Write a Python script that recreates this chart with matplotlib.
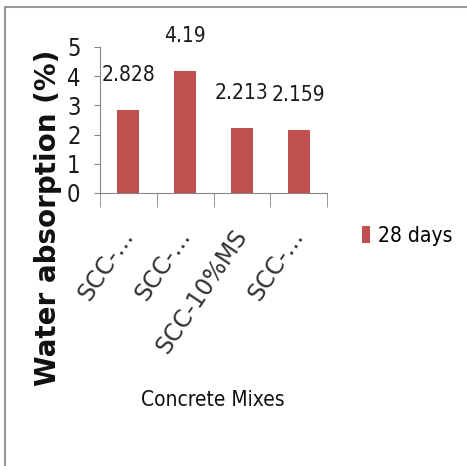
import matplotlib
matplotlib.use("Agg")
import matplotlib.pyplot as plt
from matplotlib.lines import Line2D
import numpy as np

mixes = ["SCC-…", "SCC-…", "SCC-10%MS", "SCC-…"]
absorption = [2.828, 4.19, 2.213, 2.159]
series_name = "28 days"

plt.rcParams["font.family"] = ["DejaVu Sans"]
plt.rcParams["font.stretch"] = "condensed"

fig = plt.figure(figsize=(4.67, 4.66), dpi=100)
ax = fig.add_axes([100 / 467, 1 - 193 / 466, 227 / 467, 146 / 466])

x = np.arange(len(mixes))
bars = ax.bar(x, absorption, width=0.39, color="#C0504D", label=series_name)
for xi, v in zip(x, absorption):
    ax.annotate(f"{v:g}", (xi, v), xytext=(0, 18), textcoords="offset points",
                ha="center", va="bottom", fontsize=15, color="#1a1a1a")

ax.set_xlim(-0.5, len(mixes) - 0.5)
ax.set_ylim(0, 5)
ax.set_yticks(range(6))
ax.tick_params(axis="y", labelsize=17, length=4, color="#868686", pad=10, labelcolor="#1a1a1a")
ax.set_xticks(x)
ax.set_xticklabels(mixes, rotation=56, ha="right", va="center", rotation_mode="anchor",
                   fontsize=17, fontstretch="normal", color="#333333")
ax.tick_params(axis="x", length=0, pad=28)
ax.set_xticks(np.arange(-0.5, len(mixes)), minor=True)
ax.tick_params(axis="x", which="minor", length=10, color="#868686")
for s in ["top", "right"]:
    ax.spines[s].set_visible(False)
for s in ["left", "bottom"]:
    ax.spines[s].set_color("#868686")

fig.text(48 / 467, 1 - 218 / 466, "Water absorption (%)", rotation=90, ha="center", va="center",
         fontsize=20, fontweight="bold", fontstretch="normal", color="#111111")
fig.text(213 / 467, 1 - 400 / 466, "Concrete Mixes", ha="center", va="center",
         fontsize=15, color="#111111")

fig.legend(handles=[bars], labels=[series_name], loc="center left",
           bbox_to_anchor=(343 / 467, 1 - 236 / 466), frameon=False, fontsize=15,
           handlelength=0.4, handleheight=0.9, handletextpad=0.4)

# thin frame on the top and left edges
fig.add_artist(Line2D([5 / 467, 1], [1 - 7 / 466] * 2, color="#999999", lw=1.5))
fig.add_artist(Line2D([5 / 467] * 2, [0, 1 - 7 / 466], color="#999999", lw=1.5))

fig.savefig("out.png", dpi=100)
